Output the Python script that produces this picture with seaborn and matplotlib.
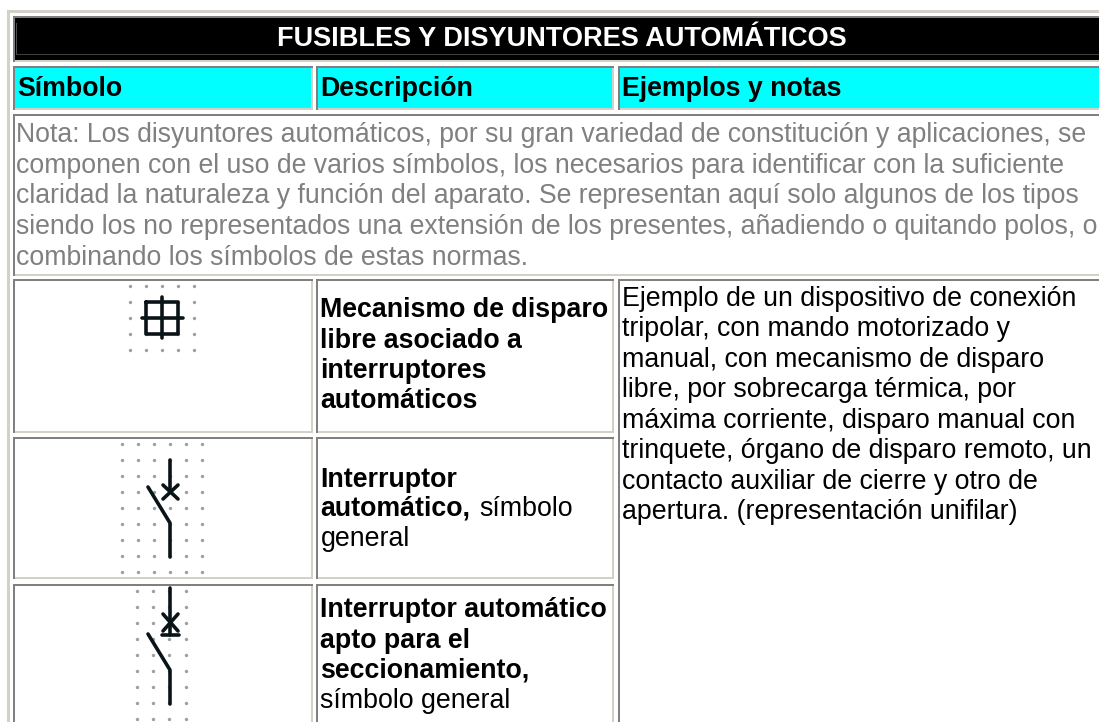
import matplotlib
matplotlib.use("Agg")
import matplotlib.pyplot as plt
from matplotlib.patches import Rectangle
import pandas as pd
import seaborn as sns

sns.set_theme(style="white")
plt.rcParams["font.family"] = ["Liberation Sans", "DejaVu Sans"]

W, H = 1099, 722
GRAY, LIGHT, CYAN = "#808080", "#d4d0c8", "#00ffff"
FS = 26.7 * 72 / 100  # px at dpi 100
FS_NOTE = 26.62 * 72 / 100
FS_TITLE = 27.1 * 72 / 100

title = "FUSIBLES Y DISYUNTORES AUTOMÁTICOS"
headers = ["Símbolo", "Descripción", "Ejemplos y notas"]
note_lines = [
    "Nota: Los disyuntores automáticos, por su gran variedad de constitución y aplicaciones, se",
    "componen con el uso de varios símbolos, los necesarios para identificar con la suficiente",
    "claridad la naturaleza y función del aparato. Se representan aquí solo algunos de los tipos",
    "siendo los no representados una extensión de los presentes, añadiendo o quitando polos, o",
    "combinando los símbolos de estas normas.",
]
desc_rows = [
    [("Mecanismo de disparo", "bold", 320.5), ("libre asociado a", "bold", 320.5),
     ("interruptores", "bold", 320.5), ("automáticos", "bold", 320.5)],
    [("Interruptor", "bold", 320.5), ("automático,", "bold", 320.5), ("símbolo", "normal", 479),
     ("general", "normal", 320.5)],
    [("Interruptor automático", "bold", 320.5), ("apto para el", "bold", 320.5),
     ("seccionamiento,", "bold", 320.5), ("símbolo general", "normal", 320.5)],
]
example_lines = [
    "Ejemplo de un dispositivo de conexión",
    "tripolar, con mando motorizado y",
    "manual, con mecanismo de disparo",
    "libre, por sobrecarga térmica, por",
    "máxima corriente, disparo manual con",
    "trinquete, órgano de disparo remoto, un",
    "contacto auxiliar de cierre y otro de",
    "apertura. (representación unifilar)",
]

# Table geometry, in pixels
col_x = [(13, 313), (316, 614), (618, 1110)]
rows_y = [(66, 110), (279, 433), (437, 579), (584, 740)]
desc_base = [[317, 348, 378, 408], [487, 516, 516, 546], [617, 648, 678, 708]]
note_base = [142, 173, 203, 234, 265]
ex_base = [306, 336, 367, 397, 428, 458, 489, 519]

# Symbol sketches: dot grids and strokes
dots_1_x = [130, 146, 162, 178, 194]
dots_1_y = [286, 302, 318, 334, 350]
dots_2_x = [122, 138, 154, 170, 186, 202]
dots_2_y = [444, 460, 476, 492, 508, 524, 540, 556, 572]
dots_3_x = [137, 153, 169, 186]
dots_3_y = [591, 607, 623, 639, 655, 671, 687, 703, 719]

strokes_1 = [
    ([146, 178, 178, 146, 146], [302, 302, 334, 334, 302]),
    ([142, 183], [318, 318]),
    ([162, 162], [297, 338]),
]
strokes_2 = [
    ([170, 170], [460, 491]),
    ([163, 178], [485, 499]),
    ([163, 178], [499, 485]),
    ([148, 170, 170], [487, 523, 557]),
]
strokes_3 = [
    ([169.5, 169.5], [588, 635]),
    ([163, 178], [614, 631]),
    ([163, 178], [631, 614]),
    ([162, 179], [635, 635]),
    ([148, 170, 170], [634, 670, 704]),
]

fig = plt.figure(figsize=(W / 100, H / 100), dpi=100, facecolor="white")
ax = fig.add_axes([0, 0, 1, 1])
ax.set_xlim(0, W)
ax.set_ylim(H, 0)
ax.axis("off")


def rect(x0, y0, x1, y1, color, z=1):
    ax.add_patch(Rectangle((x0, y0), x1 - x0, y1 - y0, fc=color, ec="none", zorder=z))


def cell(x0, y0, x1, y1, fill="white"):
    rect(x0, y0, x1, y1, fill)
    rect(x1 - 2, y0, x1, y1, LIGHT, 2)
    rect(x0, y1 - 2, x1, y1, LIGHT, 2)
    rect(x0, y0, x1, y0 + 2, GRAY, 3)
    rect(x0, y0, x0 + 2, y1, GRAY, 3)


# Outer table border
rect(7, 10, W + 5, H + 5, LIGHT, 0)
rect(10, 13, W + 5, H + 5, "white", 0.5)

# Title band
cell(13, 16, 1110, 62, "black")
rect(13, 59.5, 1110, 60, "white", 4)
rect(16, 23, 16.7, 55, "#505050", 4)
rect(16, 54, 1110, 54.7, "#404040", 4)
ax.text(561.5, 46.5, title, color="white", fontsize=FS_TITLE, fontweight="bold", ha="center", va="baseline", zorder=5)

# Column headings
for (x0, x1), head in zip(col_x, headers):
    cell(x0, rows_y[0][0], x1, rows_y[0][1], CYAN)
    ax.text(x0 + 4, 96, head, color="black", fontsize=FS, fontweight="bold", ha="left", va="baseline", zorder=5)

# Note row
cell(13, 114, 1110, 276)
for y, line in zip(note_base, note_lines):
    ax.text(16.5, y, line, color=GRAY, fontsize=FS_NOTE, ha="left", va="baseline", zorder=5)

# Body rows
for (y0, y1), lines, bases in zip(rows_y[1:], desc_rows, desc_base):
    cell(col_x[0][0], y0, col_x[0][1], y1)
    cell(col_x[1][0], y0, col_x[1][1], y1)
    for (line, weight, x), y in zip(lines, bases):
        ax.text(x, y, line, color="black", fontsize=FS, fontweight=weight, ha="left", va="baseline", zorder=5)

cell(col_x[2][0], rows_y[1][0], col_x[2][1], 740)
for y, line in zip(ex_base, example_lines):
    ax.text(621.5, y, line, color="black", fontsize=FS, ha="left", va="baseline", zorder=5)

# Symbols
for dx, dy, strokes in [
    (dots_1_x, dots_1_y, strokes_1),
    (dots_2_x, dots_2_y, strokes_2),
    (dots_3_x, dots_3_y, strokes_3),
]:
    grid = pd.DataFrame([(x, y) for x in dx for y in dy], columns=["x", "y"])
    sns.scatterplot(data=grid, x="x", y="y", ax=ax, color="#777777", s=6, linewidth=0, alpha=0.7, zorder=6, legend=False)
    for xs, ys in strokes:
        ax.plot(xs, ys, color="#0a1418", lw=2.6, solid_capstyle="round", solid_joinstyle="round", zorder=7)

ax.set_xlim(0, W)
ax.set_ylim(H, 0)
ax.axis("off")
fig.savefig("out.png", dpi=100, facecolor="white")
